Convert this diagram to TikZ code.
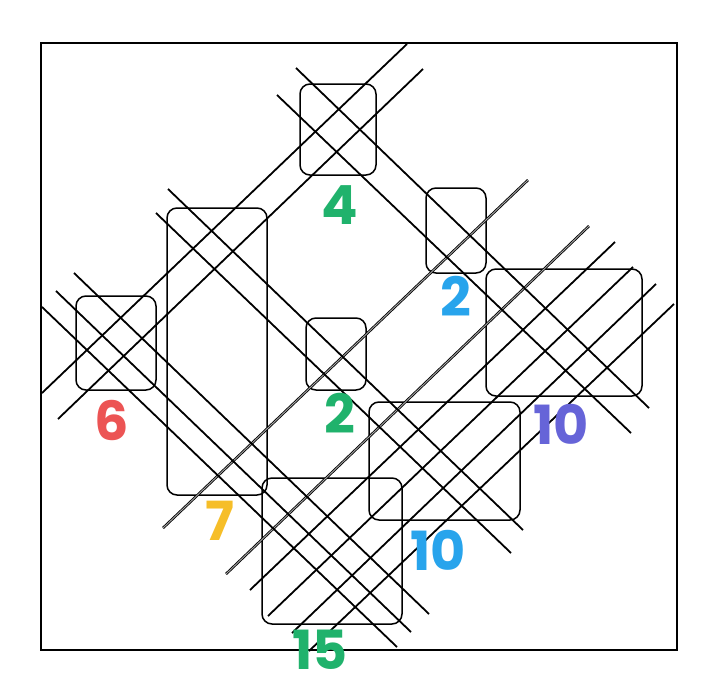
\documentclass[tikz,border=0pt]{standalone}
\usepackage{fontspec}
\newfontfamily\numfont{Poppins}
\definecolor{cgreen}{RGB}{32,178,108}
\definecolor{cblue}{RGB}{40,164,236}
\definecolor{cred}{RGB}{236,84,84}
\definecolor{cpurple}{RGB}{102,100,216}
\definecolor{cyellow}{RGB}{246,190,40}
\tikzset{
  stick/.style={line width=1.8pt, line cap=butt},
  dbl/.style={line width=0.85pt, double=gray!70, double distance=0.9pt},
  box/.style={draw, line width=1.5pt, rounded corners=10pt, inner sep=0pt, minimum width=#1},
  num/.style={inner sep=0pt, font=\numfont\bfseries\fontsize{54}{54}\selectfont},
}
\begin{document}
\begin{tikzpicture}[x=1pt,y=-1pt]
\useasboundingbox (0,0) rectangle (724,694);
\node[draw, line width=2.2pt, inner sep=0pt, minimum width=636pt, minimum height=607pt] (frame) at (359,346.5) {};
% boxes
\node[box=76pt, minimum height=91pt] (b4) at (338,129.5) {};
\node[box=100pt, minimum height=287pt] (b7) at (217,351.5) {};
\node[box=80pt, minimum height=94pt] (b6) at (116,343) {};
\node[box=60pt, minimum height=72pt] (b2c) at (336,354) {};
\node[box=60pt, minimum height=85pt] (b2r) at (456,230.5) {};
\node[box=156pt, minimum height=127pt] (b10r) at (564,332.5) {};
\node[box=151pt, minimum height=118pt] (b10b) at (444.5,461) {};
\node[box=140pt, minimum height=146pt] (b15) at (332,551) {};
% line end points
\coordinate (s1at) at (407,44);  \coordinate (s1ab) at (42,393);
\coordinate (s1bt) at (423,69);  \coordinate (s1bb) at (58,419);
\coordinate (s2t) at (528,180);  \coordinate (s2b) at (163,528);
\coordinate (s3at) at (589,226); \coordinate (s3ab) at (226,574);
\coordinate (s3bt) at (615,242); \coordinate (s3bb) at (250,590);
\coordinate (s3ct) at (633,267); \coordinate (s3cb) at (268,616);
\coordinate (s3dt) at (656,284); \coordinate (s3db) at (292,633);
\coordinate (s3et) at (674,304); \coordinate (s3eb) at (309,651);
\coordinate (d1at) at (296,68);  \coordinate (d1ab) at (649,408);
\coordinate (d1bt) at (277,95);  \coordinate (d1bb) at (631,433);
\coordinate (d2at) at (168,189); \coordinate (d2ab) at (523,530);
\coordinate (d2bt) at (156,213); \coordinate (d2bb) at (511,553);
\coordinate (d3at) at (74,273);  \coordinate (d3ab) at (429,614);
\coordinate (d3bt) at (56,291);  \coordinate (d3bb) at (411,632);
\coordinate (d3ct) at (42,307);  \coordinate (d3cb) at (397,647);
% lines
\draw[stick] (s1at) -- (s1ab);
\draw[stick] (s1bt) -- (s1bb);
\draw[dbl] (s2t) -- (s2b);
\draw[dbl] (s3at) -- (s3ab);
\draw[stick] (s3bt) -- (s3bb);
\draw[stick] (s3ct) -- (s3cb);
\draw[stick] (s3dt) -- (s3db);
\draw[stick] (s3et) -- (s3eb);
\draw[stick] (d1at) -- (d1ab);
\draw[stick] (d1bt) -- (d1bb);
\draw[stick] (d2at) -- (d2ab);
\draw[stick] (d2bt) -- (d2bb);
\draw[stick] (d3at) -- (d3ab);
\draw[stick] (d3bt) -- (d3bb);
\draw[stick] (d3ct) -- (d3cb);
% labels
\node[num, text=cgreen] (l4) at (340,205) {4};
\node[num, text=cblue] (l2r) at (456,296) {2};
\node[num, text=cred] (l6) at (112,420) {6};
\node[num, text=cgreen] (l2c) at (340,413) {2};
\node[num, text=cpurple] (l10r) at (561,424) {10};
\node[num, text=cyellow] (l7) at (220,521) {7};
\node[num, text=cblue] (l10b) at (438,550) {10};
\node[num, text=cgreen] (l15) at (320,650) {15};
\end{tikzpicture}
\end{document}
